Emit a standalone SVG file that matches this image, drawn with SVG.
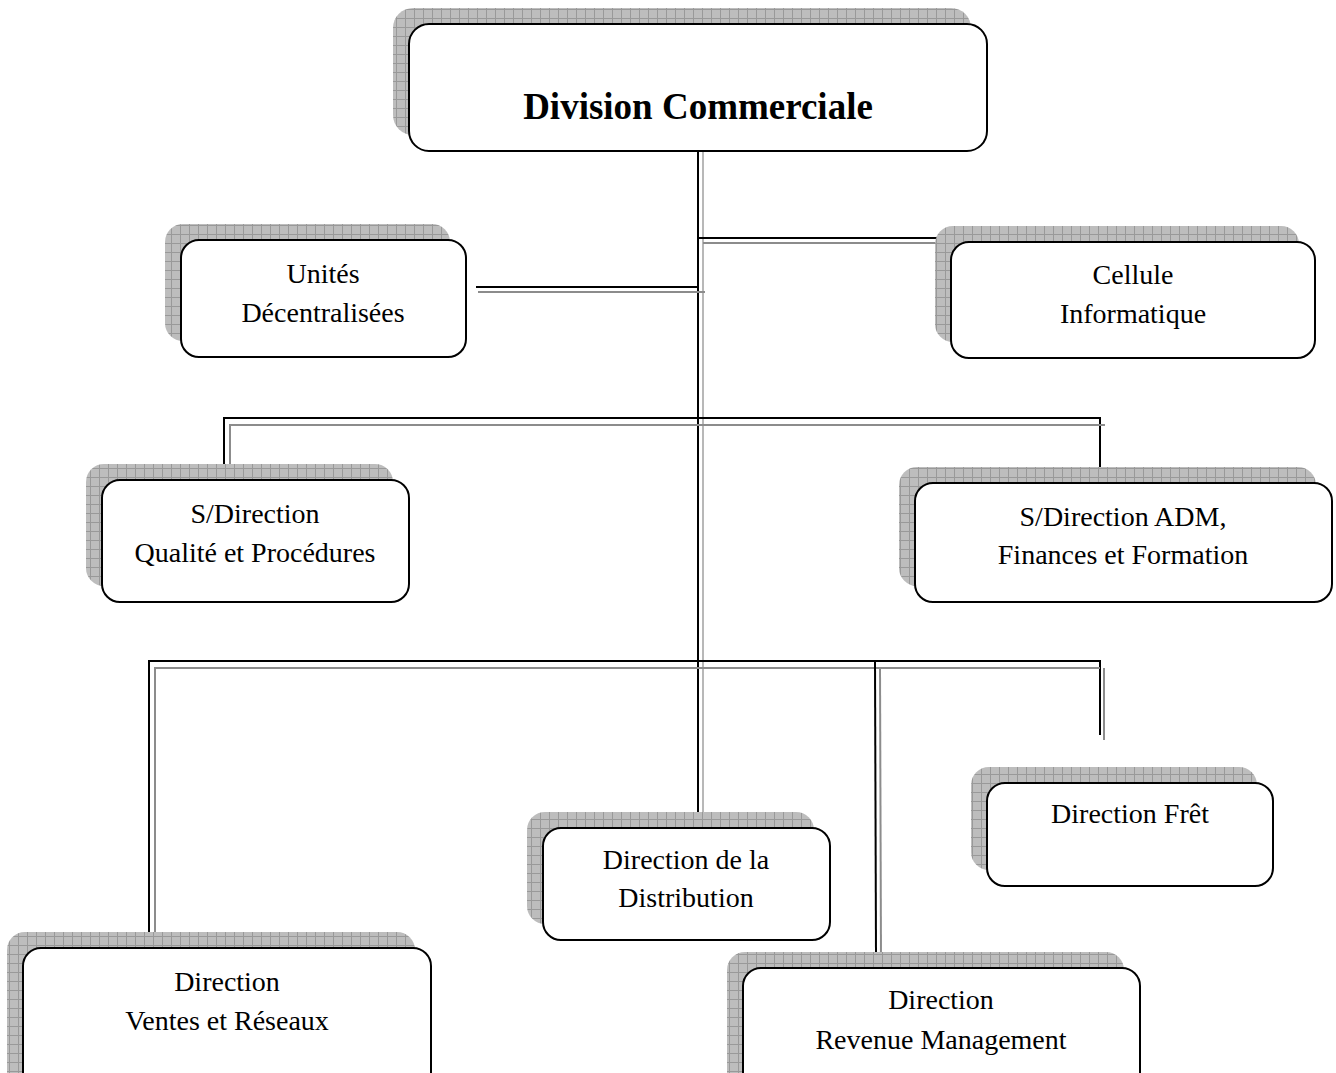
<svg xmlns="http://www.w3.org/2000/svg" width="1336" height="1073" viewBox="0 0 1336 1073">
<defs>
<pattern id="grid" width="9" height="9" patternUnits="userSpaceOnUse">
<rect width="9" height="9" fill="#bdbdbd"/>
<path d="M0 0.5H9M0.5 0V9" stroke="#999" stroke-width="1"/>
</pattern>
</defs>
<style>
.sh{fill:url(#grid);}
.bx{fill:#fff;stroke:#000;stroke-width:2;}
.t{font-family:"Liberation Serif","Times New Roman",serif;font-size:28px;text-anchor:middle;fill:#000;}
.tb{font-family:"Liberation Serif","Times New Roman",serif;font-size:37px;font-weight:bold;text-anchor:middle;fill:#000;}
.k{stroke:#000;stroke-width:2;fill:none;}
.g{stroke:#8c8c8c;stroke-width:2;fill:none;}
.lg{stroke:#b8b8b8;stroke-width:2;fill:none;}
</style>
<g id="connectors">
<line class="lg" x1="703" y1="151" x2="703" y2="828"/>
<line class="k" x1="698" y1="151" x2="698" y2="828"/>
<line class="k" x1="476" y1="287" x2="698" y2="287"/>
<line class="g" x1="478" y1="292" x2="705" y2="292"/>
<line class="k" x1="698" y1="238" x2="952" y2="238"/>
<line class="g" x1="703" y1="243" x2="950" y2="243"/>
<polyline class="k" points="224,483 224,418 1100,418 1100,485"/>
<polyline class="g" points="230,488 230,425 1105,425"/>
<polyline class="k" points="149,935 149,661 1100,661 1100,735"/>
<polyline class="g" points="155,935 155,668 1100,668"/>
<line class="g" x1="1104" y1="668" x2="1104" y2="740"/>
<line class="k" x1="875" y1="661" x2="876" y2="955"/>
<line class="g" x1="880" y1="668" x2="881" y2="960"/>
</g>
<g id="n-division">
<rect class="sh" x="393" y="8" width="578" height="127" rx="20"/>
<rect class="bx" x="409" y="24" width="578" height="127" rx="20"/>
<text class="tb" x="698" y="119">Division Commerciale</text>
</g>
<g id="n-unites">
<rect class="sh" x="165" y="224" width="285" height="117" rx="18"/>
<rect class="bx" x="181" y="240" width="285" height="117" rx="18"/>
<text class="t" x="323" y="283">Unités</text>
<text class="t" x="323" y="322">Décentralisées</text>
</g>
<g id="n-cellule">
<rect class="sh" x="935" y="226" width="364" height="116" rx="18"/>
<rect class="bx" x="951" y="242" width="364" height="116" rx="18"/>
<text class="t" x="1133" y="284">Cellule</text>
<text class="t" x="1133" y="323">Informatique</text>
</g>
<g id="n-qualite">
<rect class="sh" x="86" y="464" width="307" height="122" rx="18"/>
<rect class="bx" x="102" y="480" width="307" height="122" rx="18"/>
<text class="t" x="255" y="523">S/Direction</text>
<text class="t" x="255" y="562">Qualité et Procédures</text>
</g>
<g id="n-adm">
<rect class="sh" x="899" y="467" width="417" height="119" rx="18"/>
<rect class="bx" x="915" y="483" width="417" height="119" rx="18"/>
<text class="t" x="1123" y="526">S/Direction ADM,</text>
<text class="t" x="1123" y="564">Finances et Formation</text>
</g>
<g id="n-ventes">
<rect class="sh" x="7" y="932" width="408" height="160" rx="18"/>
<rect class="bx" x="23" y="948" width="408" height="160" rx="18"/>
<text class="t" x="227" y="991">Direction</text>
<text class="t" x="227" y="1030">Ventes et Réseaux</text>
</g>
<g id="n-distribution">
<rect class="sh" x="527" y="812" width="287" height="112" rx="18"/>
<rect class="bx" x="543" y="828" width="287" height="112" rx="18"/>
<text class="t" x="686" y="869">Direction de la</text>
<text class="t" x="686" y="907">Distribution</text>
</g>
<g id="n-revenue">
<rect class="sh" x="727" y="952" width="397" height="140" rx="18"/>
<rect class="bx" x="743" y="968" width="397" height="140" rx="18"/>
<text class="t" x="941" y="1009">Direction</text>
<text class="t" x="941" y="1049">Revenue Management</text>
</g>
<g id="n-fret">
<rect class="sh" x="971" y="767" width="286" height="103" rx="18"/>
<rect class="bx" x="987" y="783" width="286" height="103" rx="18"/>
<text class="t" x="1130" y="823">Direction Frêt</text>
</g>
</svg>
